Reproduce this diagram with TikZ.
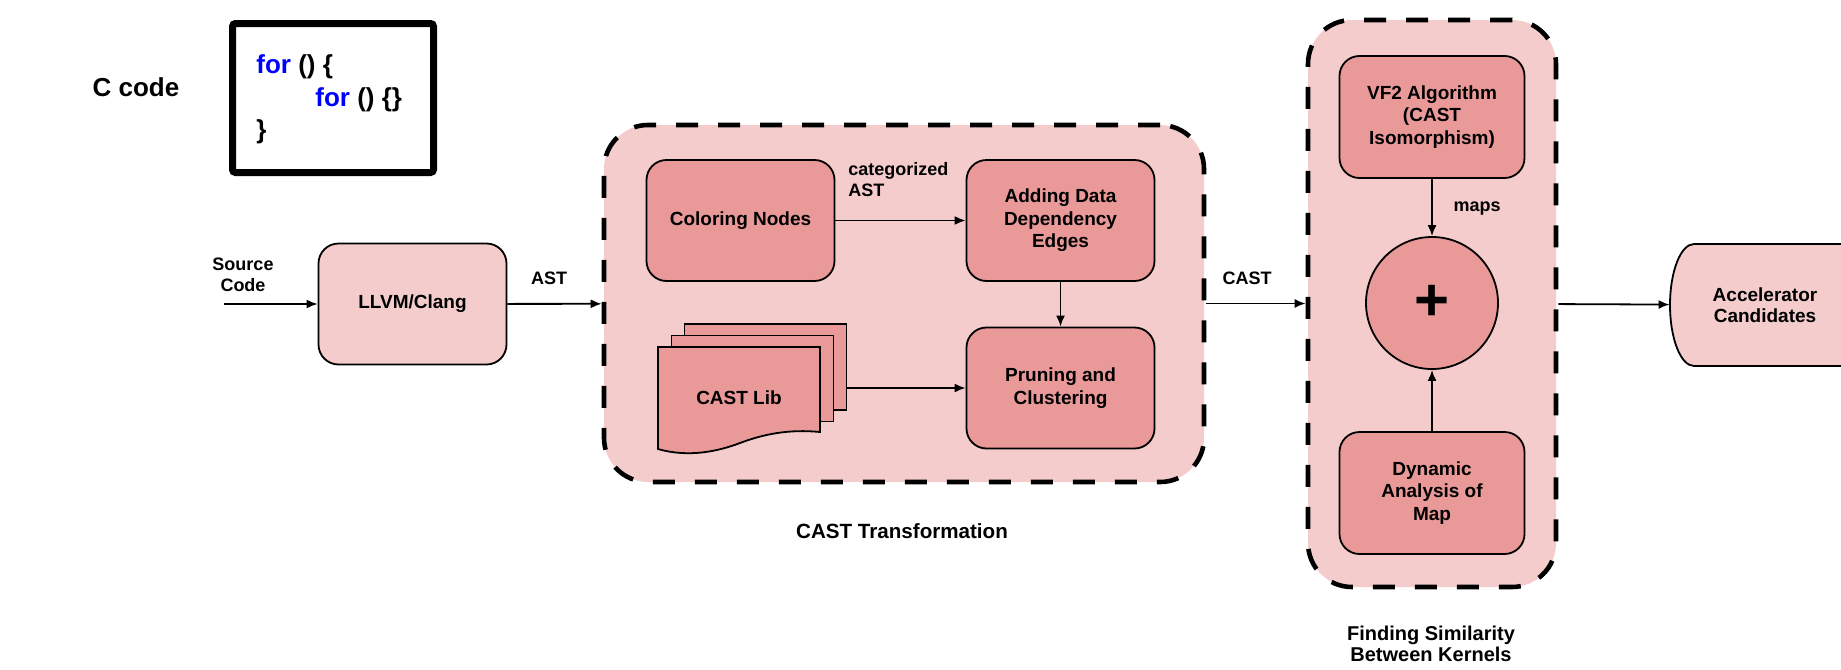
\documentclass[tikz,border=0pt]{standalone}
\usepackage{fontspec}
\setmainfont{Liberation Sans}
\usetikzlibrary{shapes.geometric,arrows.meta,positioning,calc}
\definecolor{lightred}{HTML}{F4CCCC}
\definecolor{midred}{HTML}{EA9999}
\definecolor{codeblue}{RGB}{0,0,255}

\begin{document}
\begin{tikzpicture}[x=0.5pt, y=-0.5pt, node distance=160pt]
\tikzstyle{group} = [rectangle, rounded corners=22pt, draw=black, fill=lightred, line width=2.3pt, dash pattern=on 11pt off 10pt]
\tikzstyle{block} = [rectangle, rounded corners=10pt, minimum width=94pt, minimum height=60.5pt, align=center, draw=black, line width=0.9pt, font=\fontsize{9.5}{11.3}\selectfont\bfseries]
\tikzstyle{outerblock} = [block, fill=lightred]
\tikzstyle{innerblock} = [block, fill=midred]
\tikzstyle{sheet} = [rectangle, draw=black, fill=midred, line width=0.9pt, minimum width=81pt, minimum height=43pt]
\tikzstyle{note} = [align=center, inner sep=0pt, font=\fontsize{9}{10.5}\selectfont\bfseries]
\tikzstyle{caption} = [align=center, inner sep=0pt, font=\fontsize{10.3}{10.5}\selectfont\bfseries]
\tikzstyle{arrow} = [line width=0.9pt, -{Latex[length=5.5pt, width=4.5pt]}]

\useasboundingbox (0,0) rectangle (1841,669);

\node (cast) [group, minimum width=300pt, minimum height=178.5pt] at (904,303.5) {};
\node (find) [group, minimum width=124pt, minimum height=283.5pt] at (1432,303.5) {};

\node (ccode) [font=\fontsize{13}{13}\selectfont\bfseries] at (136,87) {C code};
\node (codebox) [rectangle, rounded corners=1.5pt, draw=black, fill=white, line width=3.5pt, minimum width=100.5pt, minimum height=74.5pt] at (333,98) {};
\node (code) [anchor=west, align=left, inner sep=0pt, font=\fontsize{13}{16.25}\selectfont\bfseries] at (256,99.5) {\textcolor{codeblue}{for} () \{\\\hspace*{29.5pt}\textcolor{codeblue}{for} () \{\}\\\}};

\node (src) [note] at (243,275) {Source\\Code};
\coordinate (srcin) at (224,304);
\node (llvm) [outerblock] at (412.5,304) {LLVM/Clang};
\node (ast) [note] at (549,278) {AST};

\node (coloring) [innerblock] at (740.5,220.5) {Coloring Nodes};
\node (adding) [innerblock, right of=coloring] {Adding Data\\Dependency\\Edges};
\node (pruning) [innerblock, below of=adding, node distance=83.75pt] {Pruning and\\Clustering};
\node (catlbl) [note, anchor=west, align=left] at (848,179.5) {categorized\\AST};

% stack of CAST sheets, front one with a wavy edge
\node (libback) [sheet] at (765.5,367) {};
\node (libmid) [sheet] at (752.5,378.5) {};
\begin{scope}[shift={(739,398)}]
\draw [line width=0.9pt, fill=midred] (-81,-51) -- (81,-51) -- (81,34) .. controls (50,31) and (25,36) .. (1,45) .. controls (-20,53) and (-50,60) .. (-81,51) -- cycle;
\end{scope}
\node (castlib) [font=\fontsize{9.5}{11.3}\selectfont\bfseries] at (739,398) {CAST Lib};
\node (trans) [caption] at (902,531) {CAST Transformation};

\node (castlbl) [note] at (1247,278) {CAST};
\node (vf2) [innerblock, minimum width=92.5pt, minimum height=61pt] at (1432,117) {VF2 Algorithm\\(CAST\\Isomorphism)};
\node (plus) [circle, draw=black, fill=midred, line width=0.9pt, minimum size=66pt, inner sep=0pt, font=\fontsize{30}{30}\selectfont\bfseries] at (1432,303) {+};
\node (maps) [note] at (1477,209) {maps};
\node (dyn) [innerblock, minimum width=92.5pt, minimum height=61pt] at (1432,493) {Dynamic\\Analysis of\\Map};
\node (sim) [caption, font=\fontsize{10}{10.5}\selectfont\bfseries] at (1431,644) {Finding Similarity\\Between Kernels};

\draw [line width=0.9pt, fill=lightred] (1694,244) arc[start angle=90, end angle=270, x radius=12pt, y radius=30.5pt] -- (1880,366) -- (1880,244) -- cycle;
\node (acc) [minimum width=95pt, minimum height=61pt, align=center, font=\fontsize{9.5}{10.5}\selectfont\bfseries] at (1765,305) {Accelerator\\Candidates};

\draw [arrow] (srcin) -- (llvm);
\draw [arrow] (llvm) -- (cast);
\draw [arrow] (coloring) -- (adding);
\draw [arrow] (adding) -- (pruning);
\draw [arrow] (libback.east |- pruning.west) -- (pruning.west);
\draw [arrow] (cast) -- (find);
\draw [arrow] (vf2) -- (plus);
\draw [arrow] (dyn) -- (plus);
\draw [arrow] (find) -- (acc);
\end{tikzpicture}
\end{document}
